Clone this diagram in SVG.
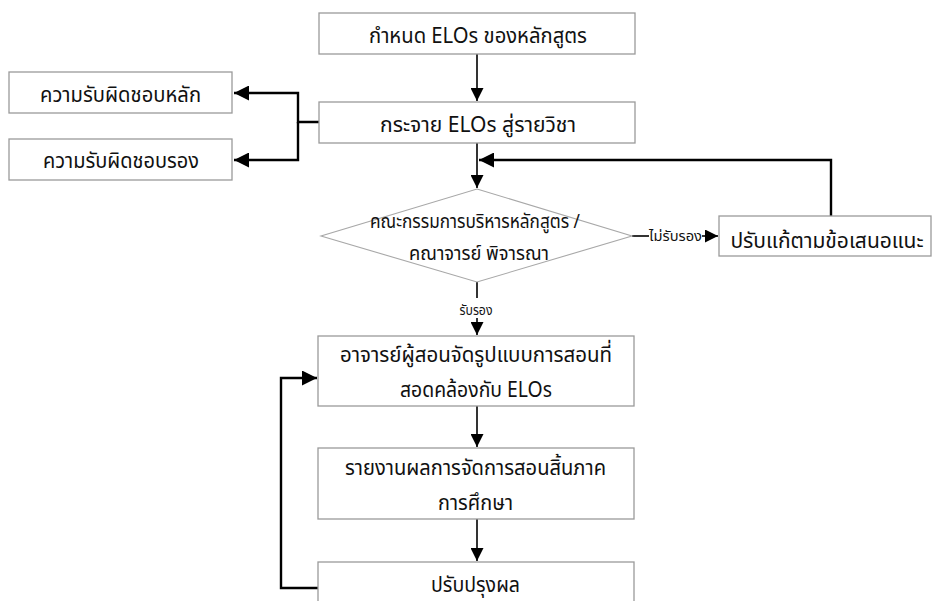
<svg xmlns="http://www.w3.org/2000/svg" width="933" height="601" viewBox="0 0 933 601">
<defs>
<style>
.box{fill:#fff;stroke:#9a9a9a;stroke-width:1.3}
.dia{fill:#fff;stroke:#a8a8a8;stroke-width:1.1}
.t{font-family:"Noto Sans Thai","Leelawadee UI",Tahoma,"Noto Sans",sans-serif;font-size:22px;fill:#111;text-anchor:middle}
.s{font-size:19px}
.xs{font-size:14px}
.c{fill:none;stroke:#000;stroke-width:1.6}
.c2{fill:none;stroke:#000;stroke-width:2.4}
</style>
<marker id="ah" viewBox="0 0 10 10" refX="10" refY="5" markerWidth="13" markerHeight="13" markerUnits="userSpaceOnUse" orient="auto"><path d="M0,0 L10,5 L0,10 Z" fill="#000"/></marker>
<marker id="ah2" viewBox="0 0 10 10" refX="10" refY="5" markerWidth="15" markerHeight="15" markerUnits="userSpaceOnUse" orient="auto"><path d="M0,0 L10,5 L0,10 Z" fill="#000"/></marker>
</defs>
<rect width="933" height="601" fill="#fff"/>
<g id="connectors">
<path class="c" d="M477,54 V101" marker-end="url(#ah)"/>
<path class="c2" d="M319,122 H298 V93 H234" marker-end="url(#ah2)"/>
<path class="c2" d="M298,122 V160 H234" marker-end="url(#ah2)"/>
<path class="c" d="M477,143 V188" marker-end="url(#ah)"/>
<path class="c2" d="M831,216 V160 H479" marker-end="url(#ah2)"/>
<path class="c" d="M632,236 H649"/>
<path class="c" d="M702,236 H718" marker-end="url(#ah)"/>
<path class="c" d="M477,282 V298"/>
<path class="c" d="M477,318 V335" marker-end="url(#ah)"/>
<path class="c" d="M477,406 V447" marker-end="url(#ah)"/>
<path class="c" d="M477,519 V561" marker-end="url(#ah)"/>
<path class="c2" d="M319,588 H281 V378 H317" marker-end="url(#ah2)"/>
<text class="t xs" x="675.5" y="241" textLength="53" lengthAdjust="spacingAndGlyphs">ไม่รับรอง</text>
<text class="t xs" x="476" y="315" textLength="33" lengthAdjust="spacingAndGlyphs">รับรอง</text>
</g>
<g id="n1"><rect class="box" x="319" y="13" width="316" height="41"/><text class="t" x="478" y="43" textLength="218" lengthAdjust="spacingAndGlyphs">กำหนด ELOs ของหลักสูตร</text></g>
<g id="n2"><rect class="box" x="319" y="102" width="316" height="41"/><text class="t" x="478" y="132" textLength="196" lengthAdjust="spacingAndGlyphs">กระจาย ELOs สู่รายวิชา</text></g>
<g id="n3"><rect class="box" x="9" y="72" width="223" height="41"/><text class="t" x="120.5" y="102" textLength="161" lengthAdjust="spacingAndGlyphs">ความรับผิดชอบหลัก</text></g>
<g id="n4"><rect class="box" x="9" y="139" width="223" height="41"/><text class="t" x="121" y="168" textLength="156" lengthAdjust="spacingAndGlyphs">ความรับผิดชอบรอง</text></g>
<g id="n5"><polygon class="dia" points="477,189 632,236 477,282 321,236"/><text class="t s" x="475" y="228" textLength="210" lengthAdjust="spacingAndGlyphs">คณะกรรมการบริหารหลักสูตร /</text><text class="t s" x="479" y="260" textLength="140" lengthAdjust="spacingAndGlyphs">คณาจารย์ พิจารณา</text></g>
<g id="n6"><rect class="box" x="719" y="216" width="212" height="40"/><text class="t" x="827" y="248" style="font-size:21px">ปรับแก้ตามข้อเสนอแนะ</text></g>
<g id="n7"><rect class="box" x="318" y="336" width="316" height="70"/><text class="t" x="476" y="362" textLength="272" lengthAdjust="spacingAndGlyphs">อาจารย์ผู้สอนจัดรูปแบบการสอนที่</text><text class="t" x="476" y="397" textLength="152" lengthAdjust="spacingAndGlyphs">สอดคล้องกับ ELOs</text></g>
<g id="n8"><rect class="box" x="318" y="448" width="316" height="71"/><text class="t" x="475.5" y="475" textLength="261" lengthAdjust="spacingAndGlyphs">รายงานผลการจัดการสอนสิ้นภาค</text><text class="t" x="475.5" y="510" textLength="75" lengthAdjust="spacingAndGlyphs">การศึกษา</text></g>
<g id="n9"><rect class="box" x="318" y="562" width="316" height="45"/><text class="t" x="475.5" y="592" textLength="89" lengthAdjust="spacingAndGlyphs">ปรับปรุงผล</text></g>
</svg>
